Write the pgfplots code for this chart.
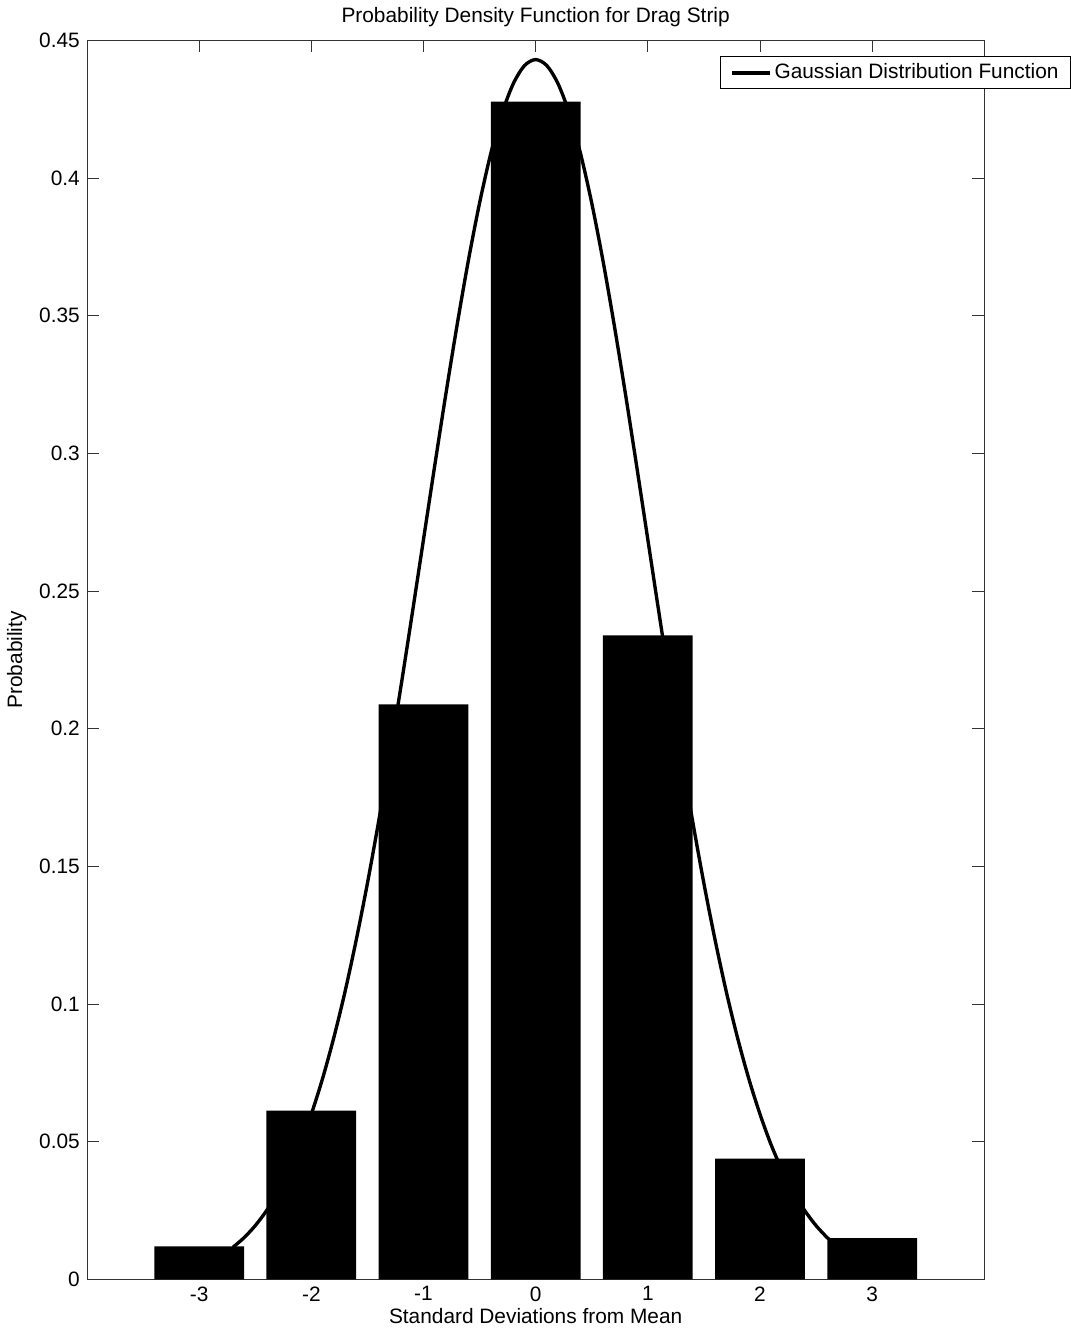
\documentclass[border=0pt]{standalone}
\usepackage{pgfplots}
\pgfplotsset{compat=1.18}
\usepackage{fontspec}
\setmainfont{Liberation Sans}
\begin{document}
\fontsize{15.5}{18}\selectfont
\begin{tikzpicture}
\begin{axis}[
  scale only axis,
  width=667pt, height=921pt,
  xmin=-4, xmax=4, ymin=0, ymax=0.45,
  xtick={-3,-2,-1,0,1,2,3},
  ytick={0,0.05,0.1,0.15,0.2,0.25,0.3,0.35,0.4,0.45},
  scaled y ticks=false,
  yticklabel style={/pgf/number format/fixed,/pgf/number format/precision=2},
  /pgf/number format/assume math mode=true,
  tick align=inside,
  major tick length=9pt,
  tick style={black!80, line width=0.6pt},
  axis line style={black!80, line width=0.6pt},
  ticklabel style={font=\fontsize{15.5}{18}\selectfont},
  label style={font=\fontsize{15.5}{18}\selectfont},
  title style={font=\fontsize{15.5}{18}\selectfont, yshift=-1pt},
  title={Probability Density Function for Drag Strip},
  xlabel={Standard Deviations from Mean},
  ylabel={Probability},
  xlabel style={yshift=5pt},
  ylabel style={yshift=-1pt},
  legend style={at={(0.706,0.987)}, anchor=north west, draw=black, fill=white,
    font=\fontsize{15.5}{18}\selectfont, inner xsep=7pt, inner ysep=3pt},
  legend cell align=left,
  legend image code/.code={\draw[line width=3pt] (0pt,0pt) -- (28pt,0pt);},
]
\addplot[black, line width=2.5pt, smooth] coordinates {
(-2.7,0.0116) (-2.6,0.0151) (-2.5,0.0195) (-2.4,0.0249) (-2.3,0.0315) (-2.2,0.0394)
(-2.1,0.0488) (-2.0,0.0600) (-1.9,0.0729) (-1.8,0.0877) (-1.7,0.1044) (-1.6,0.1232)
(-1.5,0.1438) (-1.4,0.1663) (-1.3,0.1903) (-1.2,0.2156) (-1.1,0.2419) (-1.0,0.2687)
(-0.9,0.2955) (-0.8,0.3217) (-0.7,0.3467) (-0.6,0.3700) (-0.5,0.3909) (-0.4,0.4089)
(-0.3,0.4235) (-0.2,0.4342) (-0.1,0.4408) (0.0,0.4430) (0.1,0.4408) (0.2,0.4342)
(0.3,0.4235) (0.4,0.4089) (0.5,0.3909) (0.6,0.3700) (0.7,0.3467) (0.8,0.3217)
(0.9,0.2955) (1.0,0.2687) (1.1,0.2419) (1.2,0.2156) (1.3,0.1903) (1.4,0.1663)
(1.5,0.1438) (1.6,0.1232) (1.7,0.1044) (1.8,0.0877) (1.9,0.0729) (2.0,0.0600)
(2.1,0.0488) (2.2,0.0394) (2.3,0.0315) (2.4,0.0249) (2.5,0.0195) (2.6,0.0151) (2.62,0.0146)
};
\addlegendentry{Gaussian Distribution Function}
\addplot[ybar, bar width=0.8, fill=black, draw=none, forget plot] coordinates {
(-3,0.0120) (-2,0.0613) (-1,0.2088) (0,0.4277) (1,0.2339) (2,0.0438) (3,0.0150)
};
\end{axis}
\end{tikzpicture}
\end{document}
